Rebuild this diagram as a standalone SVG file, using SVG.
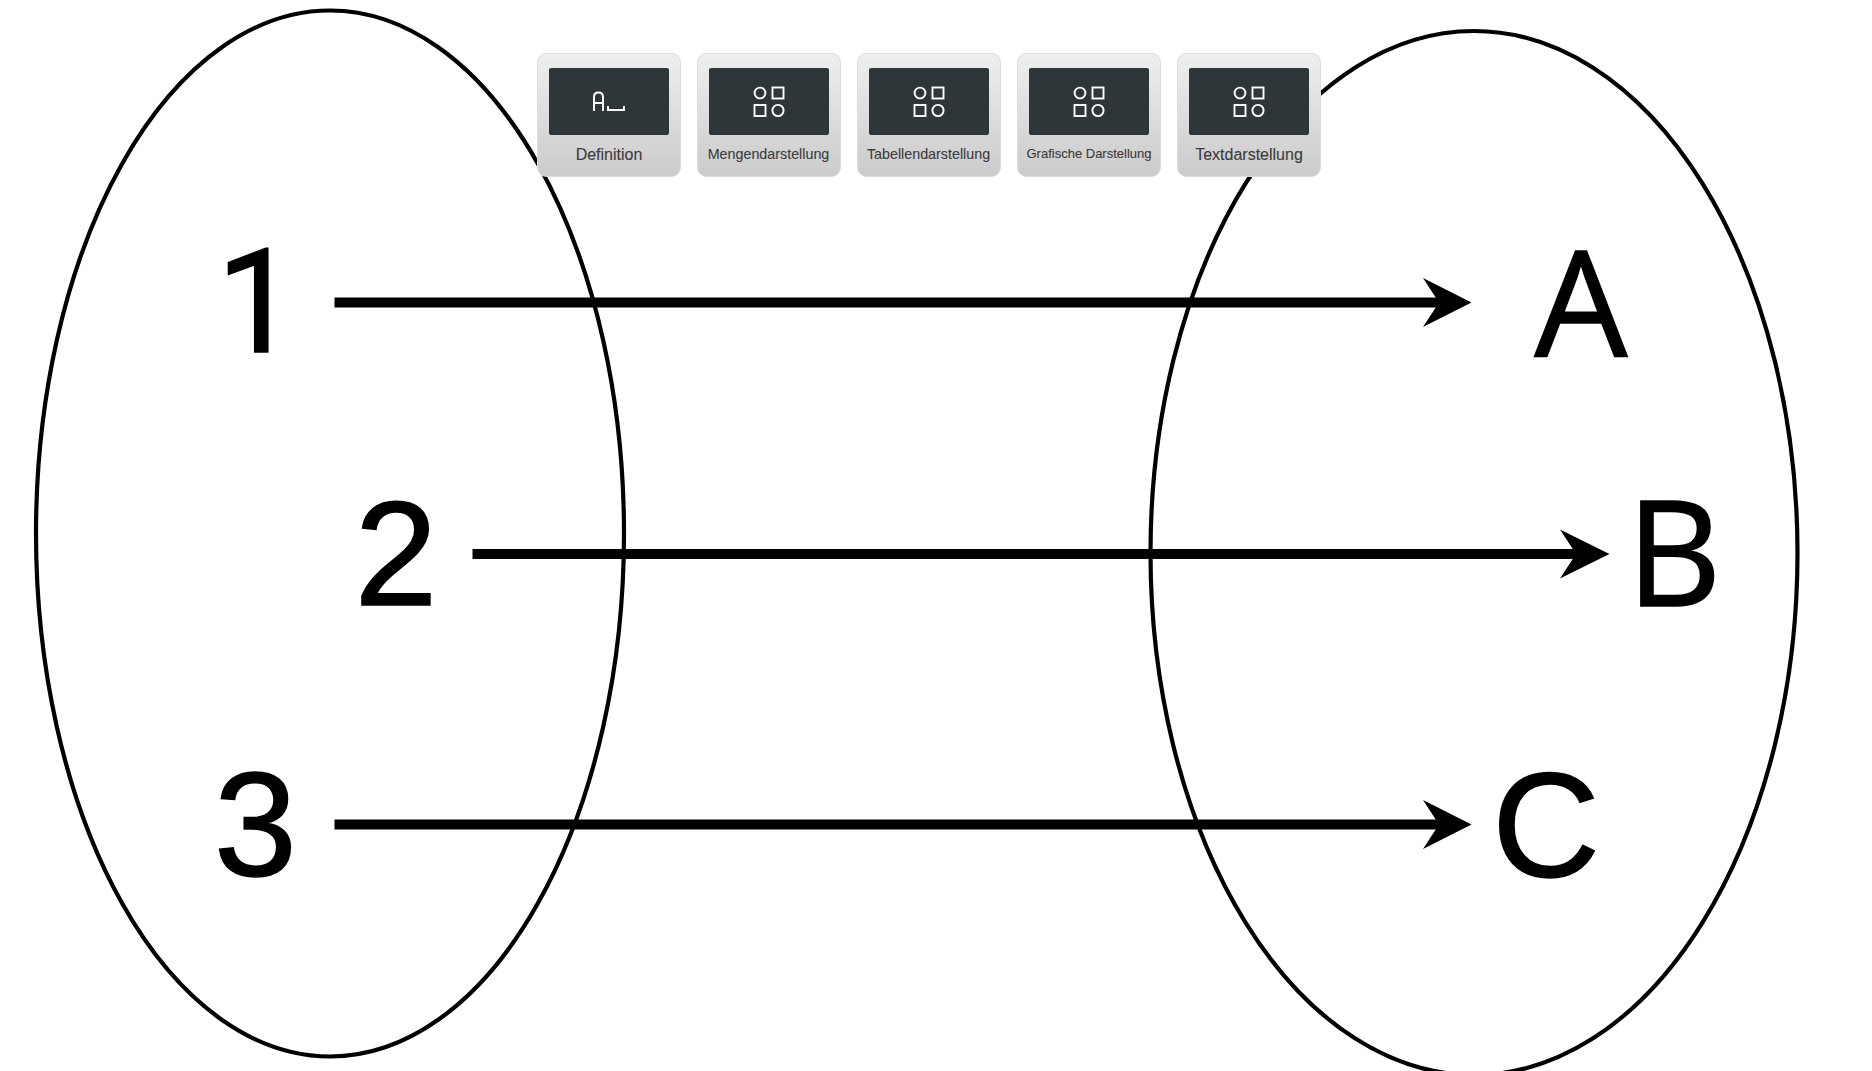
<svg xmlns="http://www.w3.org/2000/svg" width="1872" height="1071" viewBox="0 0 1872 1071">
<style>
.set{fill:none;stroke:#000;stroke-width:4.2}
.link{fill:none;stroke:#000;stroke-width:10}
.head{fill:#000}
.num{font-family:"Liberation Sans",Arial,sans-serif;font-size:149px;fill:#000;stroke:#000;stroke-width:1.6;stroke-linejoin:miter;text-anchor:middle}
.let{font-family:"Open Sans","Noto Sans",sans-serif;font-size:147px;fill:#000;stroke:#000;stroke-width:1.5;stroke-linejoin:miter;text-anchor:middle}
.card{fill:url(#cardGrad);stroke:#dcdcdc;stroke-width:1}
.screen{fill:#2f3639}
.ico{fill:none;stroke:#fff;stroke-width:1.9}
.lab{font-family:"Liberation Sans",Arial,sans-serif;fill:#3c3c3c;stroke:#3c3c3c;stroke-width:.12;text-anchor:middle}
</style>
<defs>
<linearGradient id="cardGrad" x1="0" y1="0" x2="0" y2="1"><stop offset="0" stop-color="#efefef"/><stop offset="1" stop-color="#cbcbcb"/></linearGradient>
<g id="shapes"><circle class="ico" cx="-9" cy="93" r="5.4"/><rect class="ico" x="3.5" y="87.5" width="11" height="11"/><rect class="ico" x="-14.5" y="105" width="11" height="11"/><circle class="ico" cx="9" cy="110.5" r="5.6"/></g>
</defs>
<rect width="1872" height="1071" fill="#fff"/>
<g id="set-left"><ellipse class="set" cx="330" cy="533.500" rx="294" ry="523"/></g>
<g id="set-right"><ellipse class="set" cx="1474" cy="553" rx="323.500" ry="522"/></g>
<g id="connectors">
<path class="link" d="M334.500 302.500H1445"/><path class="head" d="M1471.500 302.500L1423 278L1439 302.500L1423 327Z"/>
<path class="link" d="M472.500 554H1583"/><path class="head" d="M1609.500 554L1560 529.500L1576 554L1560 578.500Z"/>
<path class="link" d="M334.500 824.500H1445"/><path class="head" d="M1471.500 824.500L1423 800L1439 824.500L1423 849Z"/>
</g>
<g id="node-1"><text class="num" x="257" y="352" style="font-family:Roboto,'Liberation Sans',sans-serif;font-size:144px">1</text></g>
<g id="node-2"><text class="num" x="396" y="604.500">2</text></g>
<g id="node-3"><text class="num" x="255.500" y="876">3</text></g>
<g id="node-A"><text class="let" x="1581" y="356">A</text></g>
<g id="node-B"><text class="let" x="1674" y="605.500">B</text></g>
<g id="node-C"><text class="num" x="1546" y="877">C</text></g>
<g id="card-definition"><rect class="card" x="537.500" y="53.500" width="143" height="123" rx="9"/><rect class="screen" x="549" y="68" width="120" height="67" rx="2"/><path class="ico" d="M594 111V97Q594 92.500 598.500 92.500Q603 92.500 603 97V111M594 103H603M608 106V110H624V106"/><text class="lab" x="609" y="160" font-size="16">Definition</text></g>
<g id="card-mengen"><rect class="card" x="697.500" y="53.500" width="143" height="123" rx="9"/><rect class="screen" x="709" y="68" width="120" height="67" rx="2"/><use href="#shapes" x="769"/><text class="lab" x="768.500" y="159" font-size="14.300">Mengendarstellung</text></g>
<g id="card-tabellen"><rect class="card" x="857.500" y="53.500" width="143" height="123" rx="9"/><rect class="screen" x="869" y="68" width="120" height="67" rx="2"/><use href="#shapes" x="929"/><text class="lab" x="928.500" y="159" font-size="14.300">Tabellendarstellung</text></g>
<g id="card-grafisch"><rect class="card" x="1017.500" y="53.500" width="143" height="123" rx="9"/><rect class="screen" x="1029" y="68" width="120" height="67" rx="2"/><use href="#shapes" x="1089"/><text class="lab" x="1089" y="158" font-size="13">Grafische Darstellung</text></g>
<g id="card-text"><rect class="card" x="1177.500" y="53.500" width="143" height="123" rx="9"/><rect class="screen" x="1189" y="68" width="120" height="67" rx="2"/><use href="#shapes" x="1249"/><text class="lab" x="1249" y="160" font-size="16">Textdarstellung</text></g>
</svg>
